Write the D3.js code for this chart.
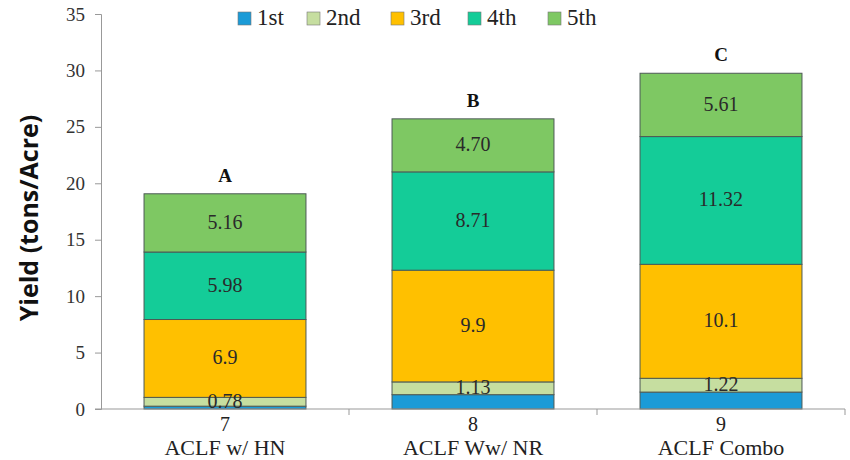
<!DOCTYPE html>
<html>
<head>
<meta charset="utf-8">
<script src="https://cdn.jsdelivr.net/npm/d3@7"></script>
<style>
  body { margin: 0; background: #fff; }
  svg { display: block; }
</style>
</head>
<body>
<div id="chart"></div>
<script>
// chart data
const categories = ['ACLF w/ HN', 'ACLF Ww/ NR', 'ACLF Combo'];
const catNumbers = ['7', '8', '9'];
const groupLetters = ['A', 'B', 'C'];
const seriesNames = ['1st', '2nd', '3rd', '4th', '5th'];
const first = [0.25, 1.27, 1.5];
const second = [0.78, 1.13, 1.22];
const third = [6.9, 9.9, 10.1];
const fourth = [5.98, 8.71, 11.32];
const fifth = [5.16, 4.70, 5.61];
const secondLabels = ['0.78', '1.13', '1.22'];
const thirdLabels = ['6.9', '9.9', '10.1'];
const fourthLabels = ['5.98', '8.71', '11.32'];
const fifthLabels = ['5.16', '4.70', '5.61'];
const yTicks = [0, 5, 10, 15, 20, 25, 30, 35];

const colors = ['#1b9bd7', '#c6dea0', '#ffc000', '#14cc98', '#7ec863'];

const width = 850, height = 460;
const margin = {top: 14, right: 5, bottom: 51, left: 101};

const svg = d3.select('#chart')
    .append('svg')
    .attr('width', width)
    .attr('height', height);

const x = d3.scaleBand()
    .domain(categories)
    .range([margin.left, width - margin.right])
    .paddingInner(0.347)
    .paddingOuter(0.1735);

const y = d3.scaleLinear()
    .domain([0, 35])
    .range([height - margin.bottom, margin.top]);

// build rows for the stack
const values = [first, second, third, fourth, fifth];
const labels = [null, secondLabels, thirdLabels, fourthLabels, fifthLabels];
const rows = categories.map((c, i) => {
    const r = {cat: c};
    seriesNames.forEach((s, j) => r[s] = values[j][i]);
    return r;
});
const stacked = d3.stack().keys(seriesNames)(rows);

// y axis
const yAxis = svg.append('g')
    .attr('transform', `translate(${margin.left},0)`)
    .call(d3.axisLeft(y).tickValues(yTicks).tickSize(6).tickPadding(10));
yAxis.select('.domain').attr('stroke', '#999');
yAxis.selectAll('.tick line').attr('stroke', '#999');
yAxis.selectAll('.tick text')
    .attr('fill', '#333')
    .style('font-family', 'Liberation Serif, serif')
    .style('font-size', '19px');

// bars
stacked.forEach((layer, j) => {
    svg.append('g')
        .selectAll('rect')
        .data(layer)
        .enter()
        .append('rect')
        .attr('x', d => x(d.data.cat))
        .attr('y', d => y(d[1]))
        .attr('width', x.bandwidth())
        .attr('height', d => y(d[0]) - y(d[1]))
        .attr('fill', colors[j])
        .attr('stroke', '#4d5a55')
        .attr('stroke-width', 1);
});

// segment value labels
stacked.forEach((layer, j) => {
    if (!labels[j]) return;
    svg.append('g')
        .selectAll('text')
        .data(layer)
        .enter()
        .append('text')
        .attr('x', d => x(d.data.cat) + x.bandwidth() / 2)
        .attr('y', d => (y(d[0]) + y(d[1])) / 2)
        .attr('dy', '0.3em')
        .attr('text-anchor', 'middle')
        .style('font-family', 'Liberation Serif, serif')
        .style('font-size', '20px')
        .attr('fill', '#2a2a2a')
        .text((d, i) => labels[j][i]);
});

// group letters above bars
const topLayer = stacked[stacked.length - 1];
svg.append('g')
    .selectAll('text')
    .data(topLayer)
    .enter()
    .append('text')
    .attr('x', d => x(d.data.cat) + x.bandwidth() / 2)
    .attr('y', d => y(d[1]) - 12)
    .attr('text-anchor', 'middle')
    .style('font-family', 'Liberation Serif, serif')
    .style('font-size', '19px')
    .style('font-weight', 'bold')
    .attr('fill', '#111')
    .text((d, i) => groupLetters[i]);

// x axis
const x0 = y(0);
svg.append('line')
    .attr('x1', margin.left - 6).attr('x2', width - margin.right)
    .attr('y1', x0).attr('y2', x0)
    .attr('stroke', '#999');
const step = x.step();
[1, 2, 3].forEach(k => {
    const tx = margin.left + k * step;
    svg.append('line')
        .attr('x1', tx).attr('x2', tx)
        .attr('y1', x0).attr('y2', x0 + 6)
        .attr('stroke', '#999');
});

const xl = svg.append('g');
categories.forEach((c, i) => {
    const cx = x(c) + x.bandwidth() / 2;
    xl.append('text')
        .attr('x', cx).attr('y', x0 + 22)
        .attr('text-anchor', 'middle')
        .style('font-family', 'Liberation Serif, serif')
        .style('font-size', '20px')
        .attr('fill', '#222')
        .text(catNumbers[i]);
    xl.append('text')
        .attr('x', cx).attr('y', x0 + 46)
        .attr('text-anchor', 'middle')
        .style('font-family', 'Liberation Serif, serif')
        .style('font-size', '22px')
        .attr('fill', '#222')
        .text(c);
});

// y axis title
svg.append('text')
    .attr('transform', 'translate(38,218) rotate(-90)')
    .attr('text-anchor', 'middle')
    .style('font-family', 'Open Sans, sans-serif')
    .style('font-size', '25px')
    .style('font-weight', 'bold')
    .attr('fill', '#111')
    .text('Yield (tons/Acre)');

// legend
const legendX = [238, 307, 391, 468, 548];
const legend = svg.append('g');
seriesNames.forEach((s, i) => {
    legend.append('rect')
        .attr('x', legendX[i]).attr('y', 12)
        .attr('width', 13).attr('height', 13)
        .attr('fill', colors[i])
        .attr('stroke', '#777')
        .attr('stroke-width', 0.6);
    legend.append('text')
        .attr('x', legendX[i] + 19).attr('y', 25)
        .style('font-family', 'Liberation Serif, serif')
        .style('font-size', '23px')
        .attr('fill', '#222')
        .text(s);
});
</script>
</body>
</html>
